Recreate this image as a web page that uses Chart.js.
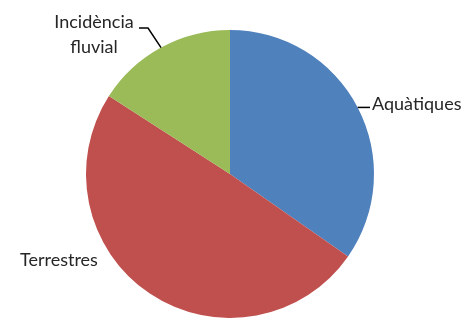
<!DOCTYPE html>
<html>
<head>
<meta charset="utf-8">
<script src="https://cdn.jsdelivr.net/npm/chart.js@4/dist/chart.umd.min.js"></script>
<style>
  html, body { margin: 0; padding: 0; background: #fff; }
  canvas { display: block; }
</style>
</head>
<body>
<canvas id="pie" width="467" height="318"></canvas>
<script>
// Chart data
const categories = ['Aquàtiques', 'Terrestres', 'Incidència fluvial'];
const values = [34.7, 49.4, 15.9];
const colors = ['#4F81BD', '#C0504D', '#9BBB59'];

// label placement (style only): text lines, baseline anchor, alignment, leader elbow
const labelStyle = [
    { lines: ['Aquàtiques'], x: 372, y: 110, align: 'left', elbow: [370, null] },
    { lines: ['Terrestres'], x: 20, y: 266, align: 'left', elbow: null },
    { lines: ['Incidència', 'fluvial'], x: 94, y: 28, align: 'center', elbow: [148, 28], tail: [139, 28] }
];

const pieLabels = {
    id: 'pieLabels',
    afterDraw(chart) {
        const ctx = chart.ctx;
        const meta = chart.getDatasetMeta(0);
        ctx.save();
        meta.data.forEach((arc, i) => {
            const s = labelStyle[i];
            if (!s) return;
            const mid = (arc.startAngle + arc.endAngle) / 2;
            const px = arc.x + Math.cos(mid) * arc.outerRadius;
            const py = arc.y + Math.sin(mid) * arc.outerRadius;
            if (s.elbow) {
                ctx.strokeStyle = '#000';
                ctx.lineWidth = 1.5;
                ctx.beginPath();
                ctx.moveTo(px, py);
                ctx.lineTo(s.elbow[0], s.elbow[1] == null ? py : s.elbow[1]);
                if (s.tail) ctx.lineTo(s.tail[0], s.tail[1]);
                ctx.stroke();
            }
            ctx.fillStyle = '#262626';
            ctx.font = '18px Lato';
            ctx.textAlign = s.align;
            ctx.textBaseline = 'alphabetic';
            s.lines.forEach((t, k) => ctx.fillText(t, s.x, s.y + k * 25));
        });
        ctx.restore();
    }
};

new Chart(document.getElementById('pie').getContext('2d'), {
    type: 'pie',
    data: {
        labels: categories,
        datasets: [{
            data: values,
            backgroundColor: colors,
            borderWidth: 0
        }]
    },
    options: {
        responsive: false,
        animation: false,
        layout: { padding: { left: 86, right: 93, top: 30, bottom: 0 } },
        plugins: { legend: { display: false }, tooltip: { enabled: false } }
    },
    plugins: [pieLabels]
});
</script>
</body>
</html>
